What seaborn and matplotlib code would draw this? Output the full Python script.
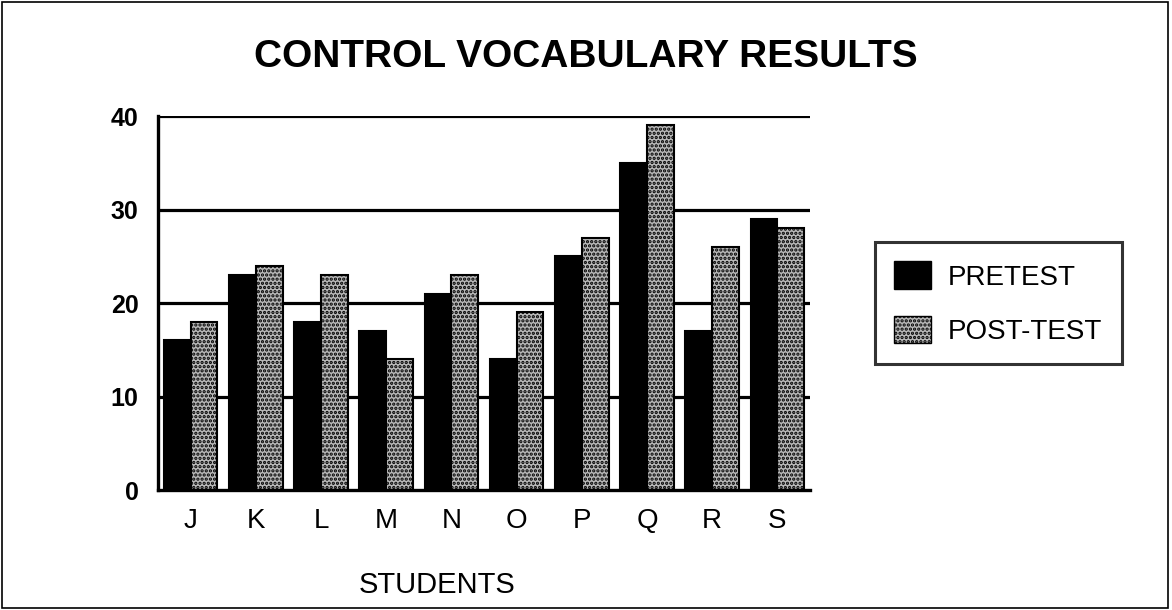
import matplotlib.pyplot as plt
import seaborn as sns
import pandas as pd
from matplotlib.patches import Patch, Rectangle

# Data
students = ['J', 'K', 'L', 'M', 'N', 'O', 'P', 'Q', 'R', 'S']
pretest = [16, 23, 18, 17, 21, 14, 25, 35, 17, 29]
posttest = [18, 24, 23, 14, 23, 19, 27, 39, 26, 28]
y_ticks = [0, 10, 20, 30, 40]

df = pd.DataFrame({
    'student': students * 2,
    'score': pretest + posttest,
    'test': ['PRETEST'] * len(students) + ['POST-TEST'] * len(students),
})

sns.set_theme(style="white")
plt.rcParams['font.family'] = ['Liberation Sans', 'DejaVu Sans']
plt.rcParams['hatch.linewidth'] = 1.6
for key in ['text.color', 'axes.labelcolor', 'xtick.color', 'ytick.color']:
    plt.rcParams[key] = 'black'

fig = plt.figure(figsize=(11.72, 6.10), dpi=100)
ax = fig.add_axes([0.1348, 0.1967, 0.5563, 0.613])

sns.barplot(data=df, x='student', y='score', hue='test', order=students,
            hue_order=['PRETEST', 'POST-TEST'], palette=['black', '#9a9a9a'],
            width=0.82, saturation=1, legend=False, ax=ax, zorder=3)

n = len(students)
for i, bar in enumerate(ax.patches[:2 * n]):
    bar.set_edgecolor('black')
    bar.set_linewidth(1.5)
    if i >= n:
        bar.set_facecolor('#b8b8b8')
        bar.set_hatch('....')

# grid lines
for v in y_ticks[1:]:
    ax.axhline(v, color='black', lw=2.3, zorder=1)

ax.set_ylim(0, 40)
ax.set_xlim(-0.5, n - 0.5)
ax.set_yticks(y_ticks)
ax.set_yticklabels([str(v) for v in y_ticks], fontsize=18, fontweight='bold')
ax.set_xticks(range(n))
ax.set_xticklabels(students, fontsize=20)
ax.set_xticks([i - 0.5 for i in range(1, n + 1)], minor=True)
ax.tick_params(axis='x', which='major', length=0, pad=13)
ax.tick_params(axis='x', which='minor', length=14, width=2.2, color='black', direction='inout')
ax.tick_params(axis='y', length=10, width=2.2, color='black', direction='out', pad=4)
ax.set_xlabel('')
ax.set_ylabel('')

for side in ['top', 'right']:
    ax.spines[side].set_visible(False)
for side in ['left', 'bottom']:
    ax.spines[side].set_color('black')
    ax.spines[side].set_linewidth(2.4)
    ax.spines[side].set_zorder(4)

fig.text(0.5, 0.890, 'CONTROL VOCABULARY RESULTS', fontsize=28,
         fontweight='bold', ha='center', va='baseline')
fig.text(0.373, 0.028, 'STUDENTS', fontsize=21, ha='center', va='baseline')

handles = [Patch(facecolor='black', edgecolor='black', label='PRETEST'),
           Patch(facecolor='#b8b8b8', edgecolor='black', hatch='....', label='POST-TEST')]
leg = fig.legend(handles=handles, loc='upper left', bbox_to_anchor=(0.7466, 0.6033),
                 fontsize=20, frameon=True, fancybox=False, handlelength=1.33,
                 handleheight=1.15, labelspacing=0.9, borderpad=0.7, handletextpad=0.6,
                 borderaxespad=0)
leg.get_frame().set_edgecolor('black')
leg.get_frame().set_linewidth(2.2)

fig.patches.append(Rectangle((0.002, 0.003), 0.995, 0.994, transform=fig.transFigure,
                             fill=False, edgecolor='black', linewidth=1.2))

fig.savefig('out.png', dpi=100)
